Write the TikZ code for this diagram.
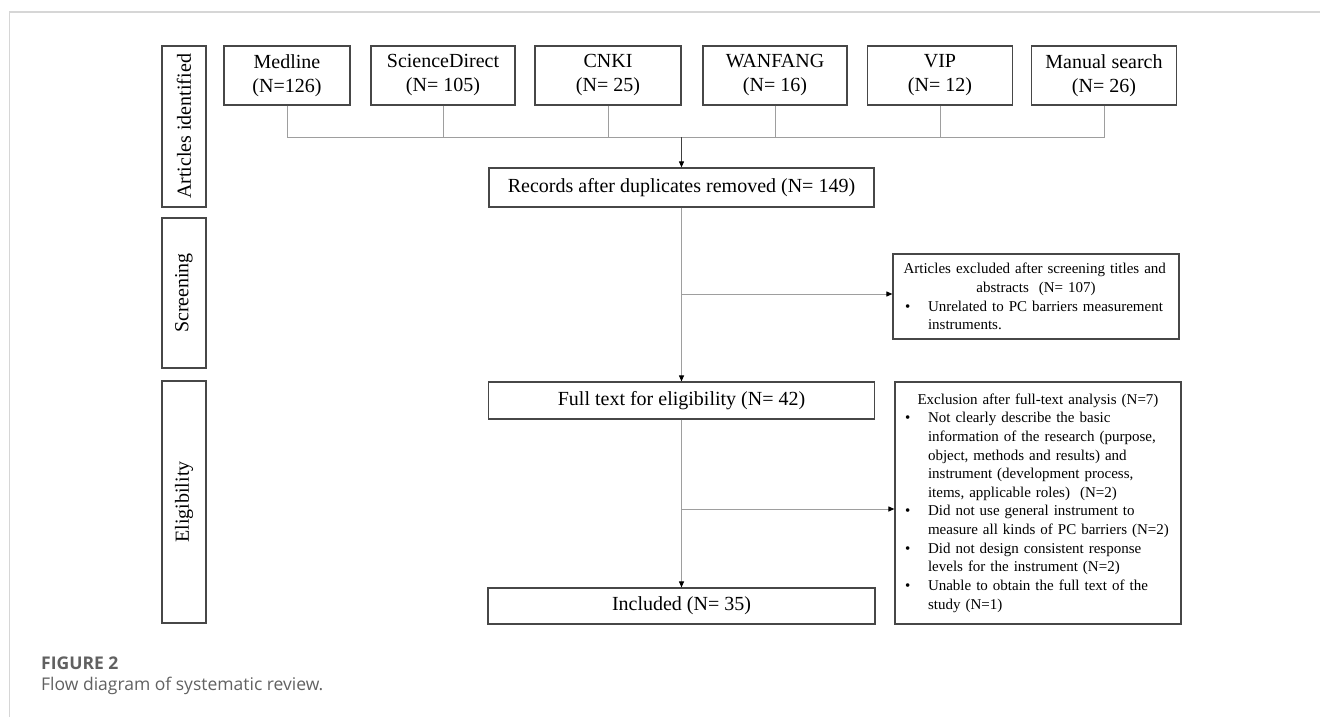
\documentclass[tikz,border=0pt]{standalone}
\usepackage{fontspec}
\setmainfont{Liberation Serif}
\newfontfamily\capfont{Open Sans}
\usetikzlibrary{arrows.meta}
\newcommand{\bitem}[3]{\par\hangindent=#1\hangafter=1\noindent\makebox[#1][l]{\hspace{#2}\textbullet}#3\par}
\begin{document}
\begin{tikzpicture}[x=1pt,y=-1pt,
  box/.style={draw=black!72, line width=1.2pt, rectangle, inner sep=0pt,
    font=\fontsize{20}{24}\selectfont, align=center},
  lab/.style={box, rotate=90, minimum height=44pt},
  conn/.style={draw=black!38, line width=1pt},
  arr/.style={conn, -{Triangle[length=6pt,width=5pt,color=black]}},
  exbox/.style={draw=black!72, line width=1.2pt, rectangle, inner ysep=0pt,
    font=\fontsize{15}{18.65}\selectfont, align=left},
  capstyle/.style={anchor=base west, inner sep=0pt, text=black!62}
]
\useasboundingbox (0,0) rectangle (1320,717);
\draw[black!16, line width=1.6pt] (9.5,717) -- (9.5,12) -- (1320,12);

% stage labels
\node[lab, minimum width=161pt] (lab1) at (184,126.5) {Articles identified};
\node[lab, minimum width=150pt] (lab2) at (184,293) {Screening};
\node[lab, minimum width=242pt] (lab3) at (184,502) {Eligibility};

% sources
\node[box, minimum width=126pt, minimum height=59pt] (med)  at (287,75.5)  {Medline\\(N=126)};
\node[box, minimum width=144pt, minimum height=59pt] (sd)   at (443,75.5)  {ScienceDirect\\(N= 105)};
\node[box, minimum width=146pt, minimum height=59pt] (cnki) at (608,75.5)  {CNKI\\(N= 25)};
\node[box, minimum width=144pt, minimum height=59pt] (wan)  at (775,75.5)  {WANFANG\\(N= 16)};
\node[box, minimum width=145pt, minimum height=59pt] (vip)  at (940,75.5)  {VIP\\(N= 12)};
\node[box, minimum width=145pt, minimum height=59pt] (man)  at (1104,75.5) {Manual search\\(N= 26)};

% main flow
\node[box, minimum width=385pt, minimum height=39pt] (rec) at (681.5,187.5) {Records after duplicates removed (N= 149)};
\node[box, minimum width=386pt, minimum height=37pt] (ft)  at (681.5,400.5) {Full text for eligibility (N= 42)};
\node[box, minimum width=387pt, minimum height=36pt] (inc) at (681.5,606)   {Included (N= 35)};

% exclusions
\node[exbox, minimum width=286pt, minimum height=85pt, text width=270pt, inner xsep=8pt] (ex1) at (1036,296.5) {%
{\centering Articles excluded after screening titles and\newline abstracts\ \ (N= 107)\par}
\bitem{27pt}{4pt}{Unrelated to PC barriers measurement\newline instruments.}};

\node[exbox, minimum width=286pt, minimum height=242pt, text width=272pt, inner xsep=7pt] (ex2) at (1038,503) {%
{\centering Exclusion after full-text analysis (N=7)\par}
\bitem{26pt}{3pt}{Not clearly describe the basic\newline information of the research (purpose,\newline object, methods and results) and\newline instrument (development process,\newline items, applicable roles)\ \ (N=2)}
\bitem{26pt}{3pt}{Did not use general instrument to\newline measure all kinds of PC barriers (N=2)}
\bitem{26pt}{3pt}{Did not design consistent response\newline levels for the instrument (N=2)}
\bitem{26pt}{3pt}{Unable to obtain the full text of the\newline study (N=1)}};

% connectors
\coordinate (bus) at (681.5,137);
\draw[conn] (med.south) -- (med.south |- bus) -- (man.south |- bus) -- (man.south);
\foreach \n in {sd,cnki,wan,vip} \draw[conn] (\n.south) -- (\n.south |- bus);
\draw[arr, draw=black!75] (bus) -- (rec.north);
\draw[arr] (rec.south) -- (ft.north);
\draw[arr] (ft.south) -- (inc.north);
\coordinate (b1) at (681.5,294);
\coordinate (b2) at (681.5,509);
\draw[arr] (b1) -- (b1 -| ex1.west);
\draw[arr] (b2) -- (b2 -| ex2.west);

% caption
\node[capstyle, font=\capfont\bfseries\fontsize{17.5}{21}\selectfont] (fig) at (41,669) {FIGURE 2};
\node[capstyle, font=\capfont\fontsize{17.5}{21}\selectfont] (cap) at (41,690) {Flow diagram of systematic review.};
\end{tikzpicture}
\end{document}
